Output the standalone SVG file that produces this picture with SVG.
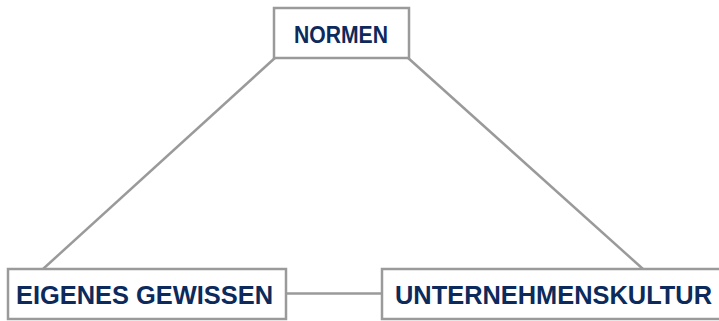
<svg xmlns="http://www.w3.org/2000/svg" width="719" height="321" viewBox="0 0 719 321">
<style>
.box{fill:#fff;stroke:#9a9a9a;stroke-width:2.5}
.ln{stroke:#9a9a9a;stroke-width:2.5;fill:none}
.t{font-family:"Liberation Sans",Arial,sans-serif;font-weight:bold;fill:#0c2a5b}
</style>
<rect width="719" height="321" fill="#fff"/>
<g id="connectors">
<line class="ln" x1="276" y1="57" x2="43" y2="269"/>
<line class="ln" x1="407" y1="57" x2="643" y2="269"/>
<line class="ln" x1="286" y1="293.5" x2="382" y2="293.5"/>
</g>
<g id="normen">
<rect class="box" x="274" y="8" width="135" height="50"/>
<text class="t" x="294" y="43" font-size="24" textLength="94" lengthAdjust="spacingAndGlyphs">NORMEN</text>
</g>
<g id="eigenes-gewissen">
<rect class="box" x="8" y="269" width="278" height="50"/>
<text class="t" x="16" y="304" font-size="25" textLength="257" lengthAdjust="spacingAndGlyphs">EIGENES GEWISSEN</text>
</g>
<g id="unternehmenskultur">
<rect class="box" x="382" y="269" width="345" height="50"/>
<text class="t" x="395" y="304" font-size="25" textLength="317" lengthAdjust="spacingAndGlyphs">UNTERNEHMENSKULTUR</text>
</g>
</svg>
